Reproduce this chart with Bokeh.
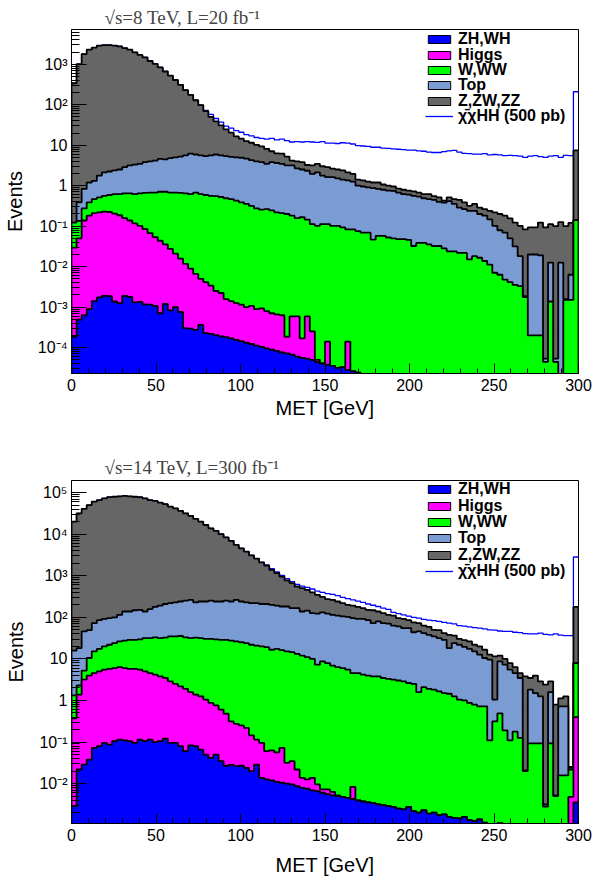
import numpy as np
from bokeh.plotting import figure
from bokeh.models import (Range1d, FixedTicker, CustomJSTickFormatter, Legend, LegendItem)
from bokeh.layouts import column
from bokeh.embed import file_html
from bokeh.resources import INLINE

# MET binning: 100 bins of 3 GeV from 0 to 300
MET_EDGES = np.arange(0, 301, 3)
X_TICKS = [0, 50, 100, 150, 200, 250, 300]

# ---------------- sqrt(s)=8 TeV, L=20 fb-1 : stacked heights (as drawn) ----------------
ZZZ_8 = [339, 1000, 1780, 2290, 2570, 2880, 2950, 2950, 2880, 2750,
         2510, 2290, 1950, 1700, 1480, 1200, 1020, 832, 661, 525,
         407, 309, 229, 174, 129, 97.7, 69.2, 50.1, 38.9, 30.9,
         24.5, 20.4, 16.6, 14.5, 12.6, 11.5, 10.2, 9.33, 8.13, 7.08,
         6.31, 6.17, 5.25, 4.17, 3.98, 3.80, 3.24, 3.16, 3.47, 3.02,
         2.88, 2.63, 2.51, 2.40, 2.14, 1.95, 1.41, 1.35, 1.26, 1.20,
         1.20, 1.07, 1.00, 0.955, 0.851, 0.794, 0.759, 0.724, 0.676, 0.617,
         0.617, 0.550, 0.513, 0.427, 0.513, 0.468, 0.447, 0.389, 0.316, 0.355,
         0.288, 0.263, 0.240, 0.219, 0.200, 0.182, 0.155, 0.123, 0.102, 0.0832,
         0.0933, 0.0933, 0.123, 0.0933, 0.112, 0.100, 0.126, 0.100, 0.120, 7.41]
TOP_8 = [0.123, 0.389, 0.832, 1.20, 1.32, 1.78, 2.14, 2.24, 2.40, 2.51,
         2.88, 3.16, 3.31, 3.47, 3.80, 3.98, 4.17, 4.57, 4.47, 4.79,
         5.01, 5.25, 5.62, 6.17, 5.89, 5.62, 5.37, 5.62, 5.89, 5.62,
         5.37, 5.13, 5.01, 4.90, 4.68, 4.27, 3.98, 3.80, 3.47, 3.80,
         3.63, 3.47, 3.16, 3.16, 2.69, 2.51, 2.34, 1.95, 2.14, 1.78,
         1.62, 1.62, 1.51, 1.41, 1.35, 1.26, 1.00, 0.955, 0.912, 0.871,
         0.832, 0.794, 0.759, 0.741, 0.676, 0.617, 0.603, 0.562, 0.537, 0.490,
         0.468, 0.447, 0.398, 0.380, 0.417, 0.355, 0.288, 0.263, 0.240, 0.240,
         0.200, 0.182, 0.148, 0.102, 0.0794, 0.0692, 0.0501, 0.0316, 0.0182, 0.00186,
         0.0200, 0.0200, 0.0191, 5.37e-5, 0.0126, 5.37e-5, 0.0126, 0.00158, 0.00631, 0.141]
WWW_8 = [0.123, 0.135, 0.275, 0.389, 0.468, 0.513, 0.562, 0.589, 0.617, 0.617,
         0.646, 0.646, 0.617, 0.646, 0.661, 0.676, 0.676, 0.708, 0.708, 0.676,
         0.676, 0.661, 0.646, 0.617, 0.676, 0.617, 0.589, 0.562, 0.550, 0.525,
         0.490, 0.468, 0.427, 0.389, 0.355, 0.316, 0.275, 0.257, 0.263, 0.245,
         0.219, 0.209, 0.200, 0.182, 0.158, 0.166, 0.145, 0.112, 0.102, 0.112,
         0.112, 0.102, 0.102, 0.0933, 0.0832, 0.0832, 0.0759, 0.0692, 0.0692, 0.0468,
         0.0575, 0.0575, 0.0525, 0.0501, 0.0479, 0.0479, 0.0457, 0.0324, 0.0389, 0.0389,
         0.0355, 0.0324, 0.0324, 0.0282, 0.0240, 0.0240, 0.0219, 0.0219, 0.0151, 0.0182,
         0.0166, 0.0138, 0.0112, 0.00708, 0.00631, 0.00479, 0.00417, 0.00355, 0.00331, 0.00178,
         2.0e-4, 2.0e-4, 2.0e-4, 4.47e-5, 0.00138, 4.47e-5, 0, 0.00151, 0.00151, 0.141]
HIGGS_8 = [0.0295, 0.0501, 0.138, 0.182, 0.209, 0.219, 0.229, 0.224, 0.204, 0.186,
           0.158, 0.138, 0.117, 0.102, 0.0851, 0.0676, 0.0537, 0.0437, 0.0355, 0.0275,
           0.0209, 0.0158, 0.0117, 0.00891, 0.00661, 0.00501, 0.00417, 0.00339, 0.00251, 0.00224,
           0.00158, 0.00141, 0.00126, 0.00115, 0.00100, 0.00107, 8.91e-4, 9.33e-4, 7.94e-4, 7.08e-4,
           6.61e-4, 6.31e-4, 1.86e-4, 5.89e-4, 5.89e-4, 1.70e-4, 5.89e-4, 2.51e-4, 5.01e-5, 4.17e-5,
           1.41e-4, 3.55e-5, 3.16e-5, 3.31e-5, 1.41e-4, 2.63e-5, 2.40e-5, 0, 0, 0,
           0, 0, 0, 0, 0, 0, 0, 0, 0, 0,
           0, 0, 0, 0, 0, 0, 0, 0, 0, 0,
           0, 0, 0, 0, 0, 0, 0, 0, 0, 0,
           0, 0, 0, 0, 0, 0, 0, 0, 0, 0]
ZHWH_8 = [1.86e-4, 4.90e-4, 6.31e-4, 8.91e-4, 1.41e-3, 1.74e-3, 1.91e-3, 1.86e-3, 1.38e-3, 1.26e-3,
          1.91e-3, 1.78e-3, 1.32e-3, 1.35e-3, 1.17e-3, 1.15e-3, 1.07e-3, 7.08e-4, 1.20e-3, 8.32e-4,
          1.00e-3, 7.59e-4, 3.02e-4, 2.95e-4, 2.75e-4, 3.63e-4, 2.29e-4, 2.19e-4, 2.04e-4, 1.91e-4,
          1.82e-4, 1.70e-4, 1.55e-4, 1.45e-4, 1.32e-4, 1.23e-4, 1.12e-4, 1.05e-4, 9.55e-5, 8.91e-5,
          8.32e-5, 7.59e-5, 7.24e-5, 6.76e-5, 6.03e-5, 5.62e-5, 5.37e-5, 5.01e-5, 4.37e-5, 3.98e-5,
          3.80e-5, 3.55e-5, 3.16e-5, 3.31e-5, 2.82e-5, 2.63e-5, 2.40e-5, 0, 0, 0,
          0, 0, 0, 0, 0, 0, 0, 0, 0, 0,
          0, 0, 0, 0, 0, 0, 0, 0, 0, 0,
          0, 0, 0, 0, 0, 0, 0, 0, 0, 0,
          0, 0, 0, 0, 0, 0, 0, 0, 0, 0]
SIGNAL_8 = [339, 1000, 1780, 2290, 2570, 2880, 2950, 2950, 2880, 2750,
            2510, 2290, 1950, 1700, 1480, 1200, 1020, 832, 661, 525,
            407, 309, 229, 174, 129, 97.7, 72.4, 57.5, 45.7, 37.2,
            29.5, 26.3, 22.9, 20.9, 18.2, 17.0, 15.5, 14.8, 14.1, 14.8,
            13.5, 14.1, 12.9, 12.0, 12.3, 12.0, 12.3, 12.0, 11.7, 12.3,
            11.2, 11.2, 11.0, 11.5, 11.2, 10.7, 9.77, 9.55, 9.33, 8.91,
            8.91, 8.51, 8.32, 8.13, 7.94, 7.76, 7.59, 7.59, 7.24, 7.08,
            6.76, 6.61, 6.61, 6.92, 7.24, 7.41, 6.76, 6.31, 6.17, 6.03,
            6.03, 6.17, 5.75, 5.89, 5.75, 5.50, 5.62, 5.50, 5.37, 5.01,
            5.37, 5.50, 5.25, 5.01, 5.37, 5.50, 5.01, 5.62, 5.50, 209]

# ---------------- sqrt(s)=14 TeV, L=300 fb-1 : stacked heights (as drawn) ----------------
ZZZ_14 = [2.00e4, 3.16e4, 4.07e4, 5.01e4, 6.03e4, 6.61e4, 7.24e4, 7.76e4, 7.94e4, 8.13e4,
          8.32e4, 8.13e4, 7.94e4, 7.76e4, 7.24e4, 6.61e4, 6.31e4, 5.75e4, 5.25e4, 4.57e4,
          4.17e4, 3.63e4, 3.16e4, 2.75e4, 2.34e4, 2.00e4, 1.66e4, 1.38e4, 1.20e4, 1.00e4,
          8320, 6920, 5500, 4570, 3800, 3090, 2570, 2090, 1740, 1380,
          1150, 955, 776, 661, 550, 501, 457, 398, 347, 309,
          275, 263, 240, 219, 200, 191, 178, 166, 151, 148,
          138, 126, 115, 110, 95.5, 91.2, 85.1, 75.9, 72.4, 63.1,
          58.9, 50.1, 49.0, 41.7, 38.0, 36.3, 30.2, 28.2, 26.3, 21.9,
          20.0, 16.6, 12.6, 11.5, 12.0, 10.0, 7.94, 6.31, 4.57, 3.80,
          3.47, 3.98, 2.88, 2.40, 2.88, 0.794, 1.12, 1.26, 0.0251, 178]
TOP_14 = [15.8, 18.2, 45.7, 49.0, 72.4, 85.1, 91.2, 95.5, 100, 115,
          138, 138, 148, 151, 138, 158, 178, 191, 209, 219,
          229, 240, 251, 263, 229, 240, 240, 251, 240, 240,
          251, 240, 263, 240, 229, 219, 219, 209, 209, 200,
          191, 182, 182, 166, 166, 138, 145, 126, 123, 132,
          123, 115, 110, 105, 102, 95.5, 91.2, 91.2, 85.1, 72.4,
          79.4, 72.4, 70.8, 63.1, 60.3, 55.0, 55.0, 43.7, 45.7, 41.7,
          38.0, 34.7, 31.6, 28.8, 18.2, 24.0, 21.9, 19.5, 17.4, 15.1,
          12.6, 10.5, 9.55, 1.05, 8.71, 7.24, 5.50, 4.57, 3.47, 0.0209,
          1.82, 1.51, 1.26, 0.00316, 1.58, 0.00525, 0.724, 0.724, 0.0219, 7.94]
WWW_14 = [1.32, 2.29, 5.25, 10.5, 15.1, 17.4, 20.0, 21.9, 24.0, 26.3,
          27.5, 28.8, 28.8, 29.5, 31.6, 31.6, 33.1, 31.6, 32.4, 34.7,
          34.7, 35.5, 33.1, 31.6, 32.4, 31.6, 30.2, 30.2, 29.5, 28.8,
          28.8, 27.5, 26.3, 25.1, 24.0, 21.9, 20.9, 20.0, 19.1, 16.6,
          17.4, 16.2, 15.1, 14.5, 13.2, 12.0, 11.0, 10.0, 7.24, 8.71,
          7.94, 6.92, 6.31, 6.03, 5.50, 4.57, 4.57, 4.17, 3.98, 3.80,
          3.80, 3.47, 3.31, 3.16, 3.02, 2.88, 2.63, 2.51, 1.58, 2.09,
          1.91, 1.82, 1.66, 1.51, 1.45, 1.26, 1.05, 1.00, 0.871, 0.794,
          0.724, 0.724, 0.110, 0.316, 0.490, 0.191, 0.110, 0.178, 0.126, 0.0200,
          0.0933, 0.0933, 0.0933, 0.00282, 0.0933, 0.00501, 0.0158, 0.0158, 0.0219, 7.94]
HIGGS_14 = [0.372, 1.38, 3.16, 3.98, 4.57, 5.01, 5.50, 5.75, 6.03, 6.31,
            6.03, 5.75, 5.75, 5.50, 5.01, 4.57, 4.17, 3.80, 3.47, 2.88,
            2.51, 2.19, 1.91, 1.58, 1.38, 1.26, 1.05, 0.871, 0.759, 0.603,
            0.479, 0.316, 0.275, 0.251, 0.219, 0.145, 0.115, 0.0955, 0.0603, 0.0631,
            0.0562, 0.0724, 0.0316, 0.0347, 0.0219, 0.0138, 0.0126, 0.0138, 0.00955, 0.00724,
            0.00724, 0.00631, 0.00525, 0.00479, 0.00457, 0.00832, 0.00398, 0.00372, 0.00355, 0.00339,
            0.00316, 0.00302, 0.00288, 0.00275, 0.00251, 0.00240, 0.00275, 0.00219, 0.00200, 0.00229,
            0.00191, 0.00200, 0.00174, 0.00182, 0.00158, 0.00151, 0.00145, 0.00158, 0.00132, 0.00126,
            0.00138, 0.00115, 0, 0, 0.00112, 0, 0, 0, 0, 0,
            0, 0, 0, 0, 0, 0, 0, 0, 0.00479, 0.398]
ZHWH_14 = [0.00288, 0.0219, 0.0288, 0.0380, 0.0724, 0.0794, 0.0955, 0.0871, 0.105, 0.115,
           0.110, 0.105, 0.0955, 0.115, 0.105, 0.115, 0.100, 0.105, 0.120, 0.0955,
           0.0955, 0.0794, 0.0603, 0.0832, 0.0794, 0.0661, 0.0501, 0.0417, 0.0501, 0.0347,
           0.0269, 0.0282, 0.0263, 0.0269, 0.0240, 0.0200, 0.0288, 0.0138, 0.0126, 0.0120,
           0.0110, 0.0105, 0.0100, 0.00955, 0.00871, 0.00794, 0.00759, 0.00692, 0.00661, 0.00603,
           0.00562, 0.00525, 0.00501, 0.00479, 0.00457, 0.00427, 0.00398, 0.00372, 0.00355, 0.00339,
           0.00316, 0.00302, 0.00288, 0.00275, 0.00251, 0.00240, 0.00275, 0.00219, 0.00200, 0.00229,
           0.00191, 0.00200, 0.00174, 0.00182, 0.00158, 0.00151, 0.00145, 0.00158, 0.00132, 0.00126,
           0.00138, 0.00115, 0, 0, 0.00112, 0, 0, 0, 0, 0,
           0, 0, 0, 0, 0, 0, 0, 0, 0, 0.00355]
SIGNAL_14 = [2.00e4, 3.16e4, 4.07e4, 5.01e4, 6.03e4, 6.61e4, 7.24e4, 7.76e4, 7.94e4, 8.13e4,
             8.32e4, 8.13e4, 7.94e4, 7.76e4, 7.24e4, 6.61e4, 6.31e4, 5.75e4, 5.25e4, 4.57e4,
             4.17e4, 3.63e4, 3.16e4, 2.75e4, 2.34e4, 2.00e4, 1.66e4, 1.38e4, 1.20e4, 1.00e4,
             8320, 6920, 5500, 4570, 3800, 3090, 2570, 2090, 1820, 1480,
             1230, 1020, 851, 724, 617, 562, 525, 479, 427, 398,
             372, 355, 331, 302, 282, 263, 245, 229, 209, 195,
             182, 166, 155, 132, 123, 115, 107, 100, 95.5, 89.1,
             85.1, 83.2, 79.4, 75.9, 72.4, 69.2, 63.1, 61.7, 58.9, 56.2,
             55.0, 52.5, 50.1, 49.0, 46.8, 45.7, 45.7, 43.7, 42.7, 40.7,
             39.8, 39.8, 41.7, 38.9, 38.0, 39.8, 37.2, 36.3, 36.3, 2820]

PROCESS_NAMES = ["ZH,WH", "Higgs", "W,WW", "Top", "Z,ZW,ZZ"]
PROCESS_COLORS = ["#0000ff", "#ff00ff", "#00ff00", "#7b9bd3", "#666666"]
SIGNAL_LABEL = "\u03c7\u0304\u03c7HH (500 pb)"
SIGNAL_COLOR = "#0000ff"

SUP = {"-": "\u207b", "0": "\u2070", "1": "\u00b9", "2": "\u00b2", "3": "\u00b3", "4": "\u2074",
       "5": "\u2075", "6": "\u2076", "7": "\u2077", "8": "\u2078", "9": "\u2079"}
JS_FMT = """
const sup = %s;
const e = Math.round(Math.log10(tick));
if (e === 0) { return "1"; }
if (e === 1) { return "10"; }
let s = "";
for (const c of String(e)) { s += sup[c]; }
return "10" + s;
""" % ("{" + ",".join('"%s":"%s"' % (k, v) for k, v in SUP.items()) + "}")

SANS = "Liberation Sans"
SERIF = "Liberation Serif"
NAN = [float("nan")]


def step_xy(vals, floor):
    v = np.asarray(vals, dtype=float)
    v = np.where(v > 0, v, floor)
    xs = np.repeat(MET_EDGES, 2).astype(float)
    ys = np.concatenate([[floor], np.repeat(v, 2), [floor]])
    return xs, ys


def make_panel(title, stack, signal, y_lo, y_hi, dec_lo, dec_hi, height, b_top, b_bottom,
               title_standoff, xlab_standoff, leg_first, leg_pitch):
    p = figure(width=592, height=height, x_range=Range1d(0, 300), y_range=Range1d(y_lo, y_hi),
               y_axis_type="log", output_backend="svg", toolbar_location=None,
               min_border_left=71, min_border_right=14, min_border_top=b_top,
               min_border_bottom=b_bottom, background_fill_color="white",
               border_fill_color="white")
    p.grid.visible = False
    p.outline_line_color = "black"
    p.outline_line_width = 1
    frame_h = height - b_top - b_bottom

    p.title.text = title
    p.title.text_font = SERIF
    p.title.text_font_size = "19px"
    p.title.text_font_style = "normal"
    p.title.align = "left"
    p.title.offset = 33
    p.title.standoff = title_standoff

    floor = y_lo / 100.0

    # signal (drawn first so the stack outline sits on it where they coincide)
    sx, sy = step_xy(signal, floor)
    p.line(sx[1:-1], sy[1:-1], line_color=SIGNAL_COLOR, line_width=1.3)

    # stacked histograms, largest cumulative first
    for vals, color in reversed(list(zip(stack, PROCESS_COLORS))):
        xs, ys = step_xy(vals, floor)
        p.patch(xs, ys, fill_color=color, line_color=None)
        p.line(xs, ys, line_color="black", line_width=1.8)

    # axes
    xa = p.xaxis[0]
    xa.ticker = FixedTicker(ticks=X_TICKS, minor_ticks=list(range(10, 300, 10)))
    xa.axis_label = "MET [GeV]"
    ya = p.yaxis[0]
    majors = [10.0 ** k for k in range(dec_lo, dec_hi + 1)]
    minors = [m * 10.0 ** k for k in range(dec_lo - 1, dec_hi + 1) for m in range(2, 10)
              if y_lo <= m * 10.0 ** k <= y_hi]
    ya.ticker = FixedTicker(ticks=majors, minor_ticks=minors)
    ya.formatter = CustomJSTickFormatter(code=JS_FMT)
    ya.axis_label = "Events"
    for ax in (xa, ya):
        ax.axis_line_color = "black"
        ax.major_tick_line_color = "black"
        ax.minor_tick_line_color = "black"
        ax.major_tick_out = 0
        ax.minor_tick_out = 0
        ax.major_label_text_font = SANS
        ax.major_label_text_font_size = "16px"
        ax.major_label_text_color = "black"
        ax.axis_label_text_font = SANS
        ax.axis_label_text_font_size = "20px"
        ax.axis_label_text_font_style = "normal"
        ax.axis_label_text_color = "black"
    xa.major_tick_in = 10
    xa.minor_tick_in = 5
    xa.major_label_standoff = 5
    xa.axis_label_standoff = xlab_standoff
    ya.major_tick_in = 15
    ya.minor_tick_in = 8
    ya.major_label_standoff = 4
    ya.axis_label_standoff = 9

    # legend: one single-row legend per entry so the row pitch matches the original
    proxies = []
    for name, color in zip(PROCESS_NAMES, PROCESS_COLORS):
        r = p.quad(left=NAN, right=NAN, top=NAN, bottom=NAN, fill_color=color,
                   line_color="black", line_width=1)
        proxies.append((name, r))
    rs = p.line(x=NAN, y=NAN, line_color=SIGNAL_COLOR, line_width=1.3)
    proxies.append((SIGNAL_LABEL, rs))
    for i, (name, r) in enumerate(proxies):
        centre = leg_first + leg_pitch * i          # px below the frame top
        loc = (354, frame_h - centre - 9)
        leg = Legend(items=[LegendItem(label=name, renderers=[r])], location=loc,
                     padding=0, margin=0, spacing=0, glyph_width=28, glyph_height=10,
                     label_height=14, label_standoff=5,
                     label_text_font=SANS, label_text_font_style="bold",
                     label_text_font_size="16px", label_text_color="black",
                     background_fill_alpha=0, border_line_alpha=0)
        p.add_layout(leg)
    return p


p8 = make_panel("\u221as=8 TeV, L=20 fb\u207b\u00b9",
                [ZHWH_8, HIGGS_8, WWW_8, TOP_8, ZZZ_8], SIGNAL_8,
                2.3e-5, 7.2e3, -4, 3, 440, 29, 67, 3, 3, 10.3, 15.3)
p14 = make_panel("\u221as=14 TeV, L=300 fb\u207b\u00b9",
                 [ZHWH_14, HIGGS_14, WWW_14, TOP_14, ZZZ_14], SIGNAL_14,
                 1.1e-3, 1.95e5, -2, 5, 441, 40, 58, 5, 10, 9.3, 16.3)

layout = column(p8, p14, spacing=0)
open("out.html", "w").write(file_html(layout, INLINE))
